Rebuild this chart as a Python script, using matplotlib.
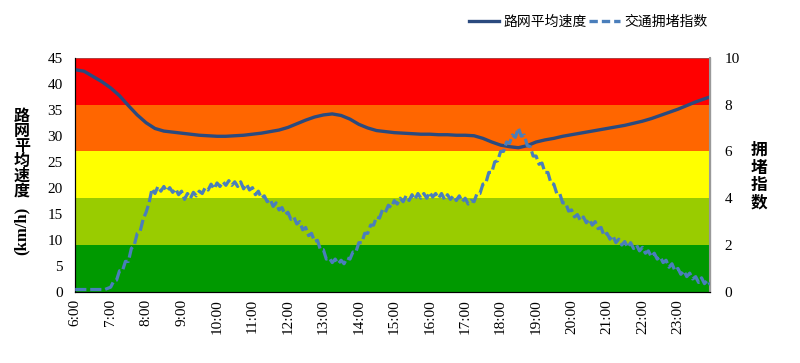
import numpy as np
import matplotlib
matplotlib.use('Agg')
import matplotlib.pyplot as plt
from matplotlib.lines import Line2D

# ---- data ----
hour_labels = ['%d:00' % h for h in range(6, 24)]
hour_ticks = [60 * i for i in range(len(hour_labels))]   # minutes after 6:00

# road-network mean speed (km/h), every 15 min plus the last sample at 23:55
speed_minutes = list(range(0, 1080, 15)) + [1075]
speed = [
    42.7, 42.4, 41.4, 40.4, 39.2, 37.7, 35.8, 34.0,   # 6:00-7:45
    32.5, 31.4, 30.9, 30.7, 30.5, 30.3, 30.1, 30.0,   # 8:00-9:45
    29.9, 29.9, 30.0, 30.1, 30.3, 30.5, 30.8, 31.1,   # 10:00-11:45
    31.6, 32.3, 33.0, 33.6, 34.0, 34.2, 33.9, 33.2,   # 12:00-13:45
    32.2, 31.5, 31.0, 30.8, 30.6, 30.5, 30.4, 30.3,   # 14:00-15:45
    30.3, 30.2, 30.2, 30.1, 30.1, 30.0, 29.5, 28.8,   # 16:00-17:45
    28.2, 27.9, 27.7, 28.1, 28.8, 29.2, 29.5, 29.9,   # 18:00-19:45
    30.2, 30.5, 30.8, 31.1, 31.4, 31.7, 32.0, 32.4,   # 20:00-21:45
    32.8, 33.3, 33.9, 34.5, 35.1, 35.8, 36.5, 37.1,   # 22:00-23:45
    37.5,
]

# traffic congestion index, every 5 min 6:00-23:55
index_minutes = list(range(0, 1080, 5))
congestion = [
    0.1, 0.1, 0.1, 0.1, 0.1, 0.1, 0.1, 0.1, 0.1, 0.1, 0.1, 0.15,          # 6
    0.2, 0.45, 0.5, 0.9, 0.9, 1.3, 1.3, 1.85, 2.0, 2.5, 2.6, 3.1,         # 7
    3.4, 3.8, 4.4, 4.2, 4.5, 4.3, 4.5, 4.3, 4.45, 4.25, 4.4, 4.15,        # 8
    4.3, 3.95, 4.2, 4.0, 4.25, 4.1, 4.3, 4.2, 4.45, 4.35, 4.6, 4.4,       # 9
    4.65, 4.5, 4.7, 4.55, 4.75, 4.55, 4.7, 4.5, 4.7, 4.4, 4.6, 4.35,      # 10
    4.45, 4.15, 4.3, 4.0, 4.1, 3.85, 3.95, 3.65, 3.8, 3.5, 3.6, 3.3,      # 11
    3.4, 3.1, 3.2, 2.9, 3.0, 2.65, 2.75, 2.4, 2.5, 2.15, 2.2, 1.8,        # 12
    1.8, 1.4, 1.45, 1.25, 1.4, 1.2, 1.35, 1.2, 1.45, 1.4, 1.7, 1.7,       # 13
    2.1, 2.1, 2.5, 2.5, 2.85, 2.85, 3.2, 3.15, 3.5, 3.4, 3.7, 3.6,        # 14
    3.9, 3.75, 4.0, 3.85, 4.1, 3.9, 4.15, 3.95, 4.2, 4.0, 4.2, 4.0,       # 15
    4.25, 4.05, 4.2, 4.0, 4.2, 3.95, 4.15, 3.95, 4.1, 3.9, 4.1, 3.85,     # 16
    4.0, 3.75, 3.9, 3.85, 4.2, 4.2, 4.6, 4.65, 5.1, 5.1, 5.55, 5.6,       # 17
    6.0, 6.0, 6.4, 6.35, 6.7, 6.6, 7.0, 6.65, 6.7, 6.25, 6.2, 5.8,        # 18
    5.8, 5.45, 5.5, 5.1, 5.1, 4.65, 4.6, 4.2, 4.2, 3.8, 3.8, 3.45,        # 19
    3.5, 3.2, 3.3, 3.05, 3.2, 2.95, 3.1, 2.85, 3.0, 2.7, 2.75, 2.4,       # 20
    2.5, 2.25, 2.4, 2.1, 2.25, 2.0, 2.15, 1.9, 2.1, 1.85, 2.0, 1.75,      # 21
    1.9, 1.65, 1.75, 1.5, 1.65, 1.4, 1.5, 1.25, 1.35, 1.05, 1.2, 0.9,     # 22
    1.0, 0.75, 0.9, 0.65, 0.8, 0.55, 0.65, 0.4, 0.6, 0.35, 0.5, 0.3,      # 23
]

# congestion bands (index units) and their colours
band_edges = [0, 2, 4, 6, 8, 10]
band_colors = ['#009900', '#99CC00', '#FFFF00', '#FF6600', '#FF0000']

speed_color = '#2B4A7E'
index_color = '#4A7EBB'
serif = ['Liberation Serif', 'DejaVu Serif']
cjk = ['Noto Sans CJK SC', 'DejaVu Sans']

fig = plt.figure(figsize=(8, 3.63), dpi=100)
ax = fig.add_axes([0.094, 0.196, 0.794, 0.645])
ax2 = ax.twinx()

# background bands (left axis is 4.5x the right axis)
for lo, hi, c in zip(band_edges[:-1], band_edges[1:], band_colors):
    ax.axhspan(lo * 4.5, hi * 4.5, color=c, zorder=0, lw=0)

ax.plot(speed_minutes, speed, color=speed_color, lw=2.4, zorder=3,
        solid_capstyle='round')
ax2.plot(index_minutes, congestion, color=index_color, lw=2.3,
         dashes=(3.5, 1.2), zorder=3)

ax.set_xlim(0, 1075)
ax.set_ylim(0, 45)
ax2.set_ylim(0, 10)
ax.set_yticks(range(0, 50, 5))
ax2.set_yticks(range(0, 12, 2))
ax.set_xticks(hour_ticks)
ax.set_xticklabels(hour_labels, rotation=90, fontfamily=serif, fontsize=11)
for lab in ax.get_yticklabels() + ax2.get_yticklabels():
    lab.set_fontfamily(serif)
    lab.set_fontsize(11)
ax.tick_params(axis='x', length=0, pad=5)
ax.tick_params(axis='y', length=0, pad=9)
ax2.tick_params(axis='y', length=0, pad=10)

for s in ['left', 'bottom']:
    ax.spines[s].set_color('#222222')
ax.spines['top'].set_color('#a05050')
ax.spines['top'].set_linewidth(0.6)
ax2.spines['right'].set_color('#999999')
ax2.spines['right'].set_linewidth(1.5)
ax2.spines['top'].set_visible(False)

# left axis title: upright characters then rotated "(km/h)"
for i, ch in enumerate('路网平均速度'):
    fig.text(22 / 800, 1 - (116 + 15 * i) / 363, ch, fontfamily=cjk,
             fontweight='bold', fontsize=11.5, ha='center', va='center')
fig.text(22 / 800, 1 - 231 / 363, '(km/h)', fontfamily=serif,
         fontweight='bold', fontsize=12, rotation=90, ha='center', va='center')

# right axis title
for i, ch in enumerate('拥堵指数'):
    fig.text(759 / 800, 1 - (150 + 17.5 * i) / 363, ch, fontfamily=cjk,
             fontweight='bold', fontsize=12, ha='center', va='center')

handles = [Line2D([], [], color=speed_color, lw=2.4),
           Line2D([], [], color=index_color, lw=2.4, dashes=(2.5, 1.2))]
fig.legend(handles, ['路网平均速度', '交通拥堵指数'], ncol=2, frameon=False,
           loc='center', bbox_to_anchor=(588 / 800, 1 - 22 / 363),
           prop={'family': cjk, 'size': 10}, handlelength=2.2,
           handletextpad=0.3, columnspacing=0.2)

fig.savefig('out.png', dpi=100)
